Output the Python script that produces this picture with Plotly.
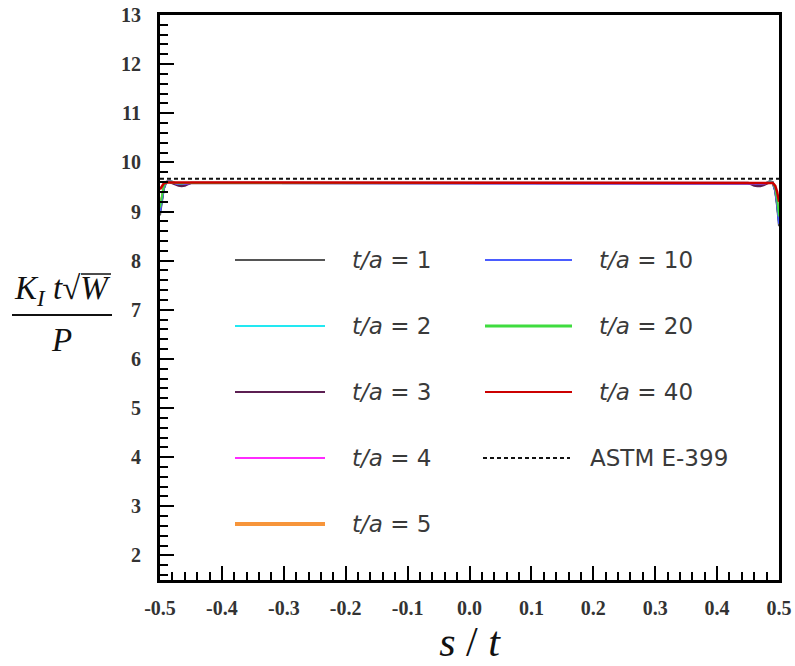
import plotly.graph_objects as go

# Normalised position across the crack front
s_t = [-0.5, -0.497, -0.494, -0.49, -0.485, -0.48, -0.475, -0.47, -0.465, -0.46, -0.455, -0.45,
       -0.4, -0.3, -0.2, -0.1, 0.0, 0.1, 0.2, 0.3, 0.4,
       0.45, 0.455, 0.46, 0.465, 0.47, 0.475, 0.48, 0.485, 0.49, 0.494, 0.497, 0.5]

# Normalised stress intensity factor K_I t sqrt(W) / P for each thickness ratio t/a
k_ta1 = [8.92, 9.20, 9.45, 9.60, 9.63, 9.61, 9.57, 9.55, 9.55, 9.57, 9.58, 9.58,
         9.58, 9.58, 9.58, 9.58, 9.58, 9.58, 9.58, 9.58, 9.58,
         9.58, 9.57, 9.55, 9.54, 9.54, 9.55, 9.58, 9.62, 9.60, 9.40, 9.10, 8.70]
k_ta2 = [8.98, 9.22, 9.46, 9.60, 9.62, 9.60, 9.57, 9.56, 9.56, 9.57, 9.58, 9.58,
         9.58, 9.58, 9.58, 9.58, 9.58, 9.58, 9.58, 9.58, 9.58,
         9.58, 9.57, 9.56, 9.55, 9.55, 9.56, 9.58, 9.61, 9.59, 9.42, 9.15, 8.78]
k_ta3 = [9.02, 9.25, 9.48, 9.60, 9.61, 9.58, 9.55, 9.53, 9.52, 9.53, 9.56, 9.58,
         9.58, 9.58, 9.58, 9.58, 9.58, 9.58, 9.58, 9.58, 9.58,
         9.58, 9.56, 9.53, 9.52, 9.52, 9.54, 9.57, 9.60, 9.58, 9.44, 9.18, 8.82]
k_ta4 = [9.06, 9.28, 9.50, 9.60, 9.61, 9.59, 9.57, 9.56, 9.56, 9.57, 9.58, 9.58,
         9.58, 9.58, 9.58, 9.58, 9.58, 9.58, 9.58, 9.58, 9.58,
         9.58, 9.58, 9.57, 9.56, 9.56, 9.57, 9.58, 9.60, 9.58, 9.46, 9.22, 8.88]
k_ta5 = [9.10, 9.32, 9.52, 9.60, 9.61, 9.59, 9.58, 9.57, 9.57, 9.58, 9.58, 9.58,
         9.58, 9.58, 9.58, 9.58, 9.58, 9.58, 9.58, 9.58, 9.58,
         9.58, 9.58, 9.58, 9.57, 9.57, 9.58, 9.58, 9.60, 9.58, 9.48, 9.26, 8.92]
k_ta10 = [9.00, 9.24, 9.47, 9.60, 9.61, 9.59, 9.57, 9.56, 9.56, 9.57, 9.58, 9.58,
          9.58, 9.58, 9.58, 9.58, 9.58, 9.58, 9.58, 9.58, 9.58,
          9.58, 9.58, 9.57, 9.56, 9.56, 9.57, 9.58, 9.60, 9.58, 9.43, 9.16, 8.75]
k_ta20 = [9.08, 9.30, 9.51, 9.60, 9.60, 9.59, 9.58, 9.57, 9.57, 9.58, 9.58, 9.58,
          9.58, 9.58, 9.58, 9.58, 9.58, 9.58, 9.58, 9.58, 9.58,
          9.58, 9.58, 9.58, 9.58, 9.57, 9.58, 9.58, 9.59, 9.58, 9.48, 9.25, 8.90]
k_ta40 = [9.45, 9.52, 9.57, 9.59, 9.59, 9.58, 9.58, 9.58, 9.58, 9.58, 9.58, 9.58,
          9.58, 9.58, 9.58, 9.58, 9.58, 9.58, 9.58, 9.58, 9.58,
          9.58, 9.58, 9.58, 9.58, 9.58, 9.58, 9.58, 9.59, 9.58, 9.52, 9.40, 9.20]
k_astm = [9.665] * len(s_t)

series_names = ["t/a = 1", "t/a = 2", "t/a = 3", "t/a = 4", "t/a = 5",
                "t/a = 10", "t/a = 20", "t/a = 40", "ASTM E-399"]
series_values = [k_ta1, k_ta2, k_ta3, k_ta4, k_ta5, k_ta10, k_ta20, k_ta40, k_astm]
series_colors = ["#555555", "#22e8f2", "#5c1f52", "#ff2bff", "#f7953a",
                 "#4a5cff", "#3fdc3f", "#cc0000", "#111111"]
plot_widths = [2, 2, 2.5, 2, 2, 2, 2, 2.5, 2]
key_widths = [2, 2, 2, 2, 4, 2, 3, 2, 2]
series_dash = ["solid"] * 8 + ["4px,3px"]

x_ticks = [-0.5, -0.4, -0.3, -0.2, -0.1, 0.0, 0.1, 0.2, 0.3, 0.4, 0.5]
x_tick_text = ["-0.5", "-0.4", "-0.3", "-0.2", "-0.1", "0.0", "0.1", "0.2", "0.3", "0.4", "0.5"]
y_ticks = [2, 3, 4, 5, 6, 7, 8, 9, 10, 11, 12, 13]

W, H = 795, 666
L, R, T, B = 160, 16, 15, 86
PW, PH = W - L - R, H - T - B


def px_x(px):
    return (px - L) / PW


def px_y(py):
    return (H - B - py) / PH


fig = go.Figure()
for name, vals, col, lw, dash in zip(series_names, series_values, series_colors,
                                     plot_widths, series_dash):
    fig.add_trace(go.Scatter(x=s_t, y=vals, mode="lines", name=name, showlegend=False,
                             line=dict(color=col, width=lw, dash=dash)))

shapes = []
annotations = []

# Two-column key drawn inside the plot area
col1 = dict(x0=235, x1=325, tx=350, rows=[260, 326, 392, 458, 524])
col2 = dict(x0=485, x1=572, tx=597, rows=[260, 326, 392, 458])
key_font = dict(family="DejaVu Sans", size=23, color="#3a3a3a")
for i, name in enumerate(series_names):
    if i < 5:
        c, r = col1, col1["rows"][i]
    else:
        c, r = col2, col2["rows"][i - 5]
    x0, x1, tx = c["x0"], c["x1"], c["tx"]
    if name.startswith("ASTM"):
        x0, x1, tx = 483, 570, 588
        label = name
    else:
        label = "<i>t/a</i> = " + name.split("= ")[1]
    shapes.append(dict(type="line", xref="paper", yref="paper",
                       x0=px_x(x0), x1=px_x(x1), y0=px_y(r), y1=px_y(r),
                       line=dict(color=series_colors[i], width=key_widths[i],
                                 dash=series_dash[i])))
    annotations.append(dict(xref="paper", yref="paper", x=px_x(tx), y=px_y(r),
                            xanchor="left", yanchor="middle", showarrow=False,
                            text=label, font=key_font))

# Y-axis title as a fraction: K_I t sqrt(W) over P
frac_font = dict(family="Liberation Serif", size=33, color="#111111")
annotations.append(dict(xref="paper", yref="paper", x=px_x(62), y=px_y(290),
                        xanchor="center", yanchor="middle", showarrow=False,
                        text="<i>K<sub>I</sub> t</i>√<i>W</i>", font=frac_font))
annotations.append(dict(xref="paper", yref="paper", x=px_x(62), y=px_y(340),
                        xanchor="center", yanchor="middle", showarrow=False,
                        text="<i>P</i>", font=frac_font))
# fraction bar and the radical's vinculum over W
shapes.append(dict(type="line", xref="paper", yref="paper",
                   x0=px_x(12), x1=px_x(112), y0=px_y(315), y1=px_y(315),
                   line=dict(color="#111111", width=2)))
shapes.append(dict(type="line", xref="paper", yref="paper",
                   x0=px_x(81), x1=px_x(111), y0=px_y(274), y1=px_y(274),
                   line=dict(color="#111111", width=1.5)))

tick_font = dict(family="Liberation Serif", size=20, color="#333333", weight="bold")
axis_common = dict(showline=True, linewidth=3, linecolor="black", mirror=True,
                   ticks="inside", ticklen=14, tickwidth=2, tickcolor="black",
                   showgrid=False, zeroline=False, tickfont=tick_font,
                   automargin=False)

fig.update_layout(
    width=W, height=H,
    margin=dict(l=L, r=R, t=T, b=B),
    paper_bgcolor="white", plot_bgcolor="white",
    shapes=shapes, annotations=annotations,
    xaxis=dict(range=[-0.5, 0.5], tickvals=x_ticks, ticktext=x_tick_text,
               minor=dict(ticks="inside", dtick=0.02, ticklen=8, tickwidth=1.5,
                          tickcolor="black"),
               title=dict(text="<i>s</i> / <i>t</i>", standoff=8,
                          font=dict(family="Liberation Serif", size=42, color="#111111")),
               ticklabelstandoff=8,
               **axis_common),
    yaxis=dict(range=[1.5, 13], tickvals=y_ticks,
               minor=dict(ticks="inside", dtick=0.2, ticklen=8, tickwidth=1.5,
                          tickcolor="black"),
               ticklabelstandoff=12,
               **axis_common),
)

fig.write_html("out.html")
